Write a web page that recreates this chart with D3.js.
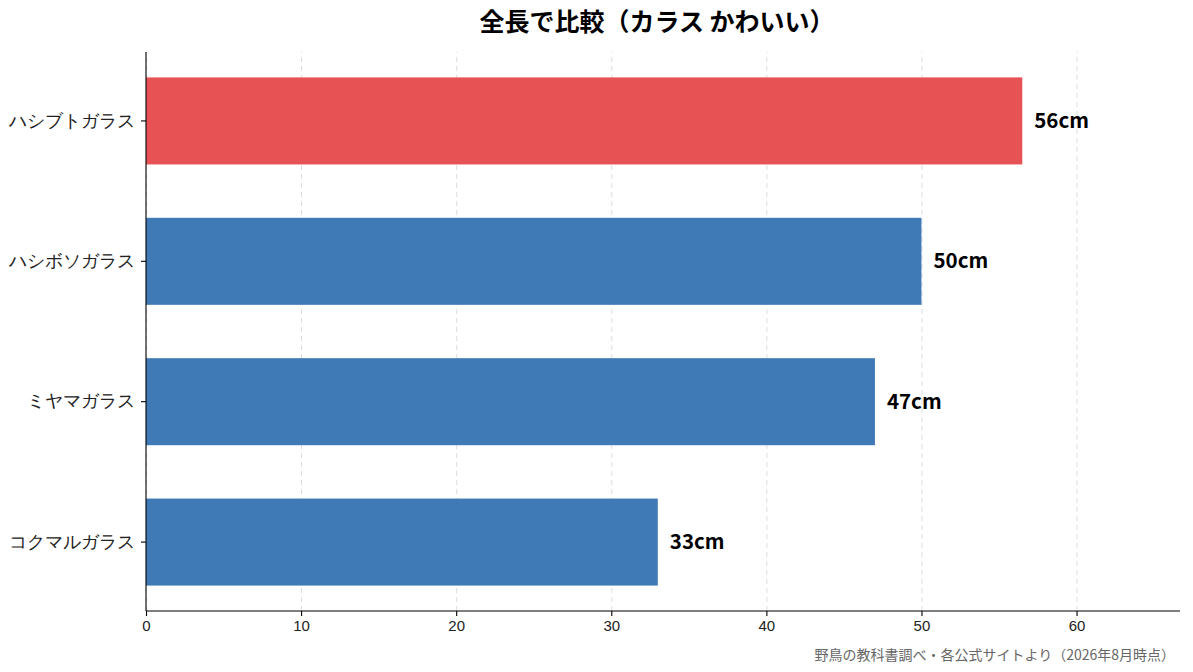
<!DOCTYPE html>
<html>
<head>
<meta charset="utf-8">
<script src="https://cdn.jsdelivr.net/npm/d3@7"></script>
<style>
  body { margin: 0; background: #fff; }
  svg { font-family: "Noto Sans CJK JP", "Noto Sans", sans-serif; }
  .grid line { stroke: #dddddd; stroke-dasharray: 5,4; stroke-width: 1; }
  .grid .domain { display: none; }
  .axis text { font-size: 15px; fill: #222; }
  .axis line, .axis path { stroke: #000; stroke-width: 1.1; }
</style>
</head>
<body>
<div id="chart"></div>
<script>
// data
var birds = ["ハシブトガラス", "ハシボソガラス", "ミヤマガラス", "コクマルガラス"];
var lengths = [56.5, 50, 47, 33];
var valueLabels = ["56cm", "50cm", "47cm", "33cm"];
var highlight = "ハシブトガラス";
var xTicks = [0, 10, 20, 30, 40, 50, 60];

var svgWidth = 1193;
var svgHeight = 672;

var margin = { top: 52, bottom: 61, right: 13, left: 146 };
var width = svgWidth - margin.left - margin.right;
var height = svgHeight - margin.top - margin.bottom;

var svg = d3.select("#chart")
    .append("svg")
    .attr("width", svgWidth)
    .attr("height", svgHeight);

var chartGroup = svg.append("g")
    .attr("transform", `translate(${margin.left}, ${margin.top})`);

var xScale = d3.scaleLinear()
    .domain([0, d3.max(lengths) * 1.18])
    .range([0, width]);

var yScale = d3.scaleBand()
    .domain(birds)
    .range([0, height])
    .paddingInner(0.38)
    .paddingOuter(0.181);

// dashed vertical grid
chartGroup.append("g")
    .attr("class", "grid")
    .attr("transform", `translate(0, ${height})`)
    .call(d3.axisBottom(xScale).tickValues(xTicks).tickSize(-height).tickFormat(""));

// bars
chartGroup.append("g")
    .selectAll("rect")
    .data(birds)
    .enter()
    .append("rect")
    .attr("x", 0)
    .attr("y", d => yScale(d))
    .attr("width", (d, i) => xScale(lengths[i]))
    .attr("height", yScale.bandwidth())
    .attr("fill", d => d === highlight ? "#e75355" : "#3f7ab6");

// value labels
chartGroup.append("g")
    .selectAll("text")
    .data(birds)
    .enter()
    .append("text")
    .attr("x", (d, i) => xScale(lengths[i]) + 12)
    .attr("y", d => yScale(d) + yScale.bandwidth() / 2)
    .attr("dy", "0.35em")
    .style("font-size", "20.5px")
    .style("font-weight", "bold")
    .text((d, i) => valueLabels[i]);

// axes
var xAxis = chartGroup.append("g")
    .attr("class", "axis")
    .attr("transform", `translate(0, ${height})`)
    .call(d3.axisBottom(xScale).tickValues(xTicks).tickSize(5).tickPadding(4));
xAxis.select(".domain").attr("d", `M0,0H${width}`);

var yAxis = chartGroup.append("g")
    .attr("class", "axis")
    .call(d3.axisLeft(yScale).tickSize(5).tickPadding(6));
yAxis.select(".domain").attr("d", `M0,0V${height}`);
yAxis.selectAll("text").style("font-size", "17.5px").attr("fill", "#111");

// title
svg.append("text")
    .attr("x", 657)
    .attr("y", 31)
    .attr("text-anchor", "middle")
    .style("font-size", "25px")
    .style("font-weight", "bold")
    .text("全長で比較（カラス かわいい）");

// source note
svg.append("text")
    .attr("x", 1175)
    .attr("y", 660)
    .attr("text-anchor", "end")
    .style("font-size", "14px")
    .attr("fill", "#666")
    .text("野鳥の教科書調べ・各公式サイトより（2026年8月時点）");
</script>
</body>
</html>
